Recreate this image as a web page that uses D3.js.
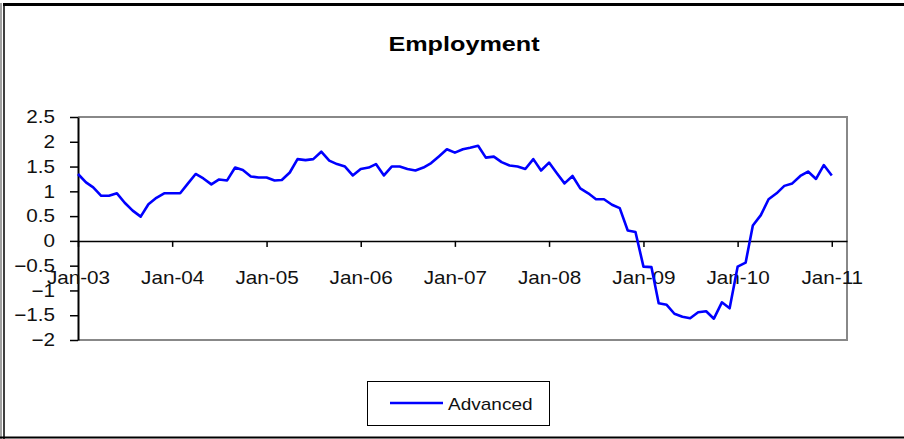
<!DOCTYPE html>
<html><head><meta charset="utf-8">
<script src="https://cdn.jsdelivr.net/npm/d3@7"></script>
<style>
html,body{margin:0;padding:0;background:#fff;}
svg{display:block;font-family:"Liberation Sans",Arial,sans-serif;}
</style></head>
<body>
<svg id="chart" width="904" height="439"></svg>
<script>
const title = "Employment";
const seriesName = "Advanced";
const startMonth = "2003-01";
const values = [
  1.35,1.18,1.08,0.91,0.91,0.96,0.77,0.61,0.49,0.74,0.87,0.96,
  0.96,0.96,1.15,1.35,1.26,1.14,1.24,1.22,1.48,1.43,1.30,1.28,
  1.28,1.22,1.23,1.38,1.65,1.63,1.65,1.80,1.62,1.55,1.50,1.32,
  1.45,1.48,1.55,1.32,1.50,1.50,1.45,1.42,1.48,1.57,1.71,1.85,
  1.78,1.85,1.88,1.92,1.68,1.70,1.59,1.52,1.50,1.45,1.65,1.42,
  1.58,1.36,1.16,1.31,1.06,0.96,0.84,0.84,0.73,0.66,0.21,0.18,
  -0.52,-0.53,-1.26,-1.29,-1.47,-1.53,-1.56,-1.44,-1.42,-1.57,-1.24,-1.36,
  -0.52,-0.44,0.31,0.52,0.84,0.96,1.11,1.16,1.31,1.40,1.25,1.53,
  1.32
];
const yTicks = [-2,-1.5,-1,-0.5,0,0.5,1,1.5,2,2.5];
const xTickYears = [2003,2004,2005,2006,2007,2008,2009,2010,2011];

const parse = d3.timeParse("%Y-%m");
const t0 = parse(startMonth);
const data = values.map((v,i)=>({date:d3.timeMonth.offset(t0,i), v}));

const svg = d3.select("#chart");
const L=78, R=847, T=117, B=340;

// outer frame
svg.append("line").attr("x1",3).attr("x2",904).attr("y1",4.5).attr("y2",4.5).attr("stroke","#000").attr("stroke-width",3);
svg.append("line").attr("x1",1).attr("x2",1).attr("y1",3).attr("y2",439).attr("stroke","#444").attr("stroke-width",1);
svg.append("line").attr("x1",4).attr("x2",4).attr("y1",3).attr("y2",439).attr("stroke","#000").attr("stroke-width",1.5);
svg.append("line").attr("x1",0).attr("x2",904).attr("y1",437.5).attr("y2",437.5).attr("stroke","#000").attr("stroke-width",2);

const x = d3.scaleTime().domain([t0, parse("2011-03")]).range([L,R]);
const y = d3.scaleLinear().domain([-2,2.5]).range([B,T]);

function stretch(sel, k){
  sel.each(function(){
    const t=d3.select(this);
    const tx=+t.attr("x")||0, ty=+t.attr("y")||0;
    t.attr("x",0).attr("y",0).attr("transform",`translate(${tx},${ty}) scale(${k},1)`);
  });
}

// plot area border (gray)
svg.append("path").attr("d",`M${L},${T}H${R}V${B}H${L}`).attr("fill","none").attr("stroke","#888").attr("stroke-width",2);

// title
svg.append("text").attr("transform","translate(464,51) scale(1.2,1)").attr("text-anchor","middle")
  .attr("font-size",21).attr("font-weight","bold").attr("fill","#000").text(title);

// y axis
const gy = svg.append("g").attr("transform",`translate(${L},0)`)
  .call(d3.axisLeft(y).tickValues(yTicks).tickFormat(d3.format("")).tickSizeInner(8).tickSizeOuter(0).tickPadding(15));
gy.select(".domain").attr("stroke","#000").attr("stroke-width",2);
gy.selectAll(".tick line").attr("stroke","#000").attr("stroke-width",1.5);
gy.selectAll("text").attr("font-size",18).attr("fill","#111").attr("font-family","Liberation Sans, Arial, sans-serif");
stretch(gy.selectAll("text"),1.15);

// x axis at zero
const gx = svg.append("g").attr("transform",`translate(0,${y(0)})`)
  .call(d3.axisBottom(x).tickValues(xTickYears.map(yr=>new Date(yr,0,1)))
    .tickFormat(d3.timeFormat("Jan-%y")).tickSizeInner(6).tickSizeOuter(0).tickPadding(24));
gx.select(".domain").attr("stroke","#000").attr("stroke-width",1.5);
gx.selectAll(".tick line").attr("stroke","#000").attr("stroke-width",1.5);
gx.selectAll("text").attr("font-size",18).attr("fill","#111").attr("font-family","Liberation Sans, Arial, sans-serif");
stretch(gx.selectAll("text"),1.15);

// line
const line = d3.line().x(d=>x(d.date)).y(d=>y(d.v));
svg.append("path").datum(data).attr("d",line).attr("fill","none").attr("stroke","#0000ff").attr("stroke-width",2.6).attr("stroke-linejoin","round");

// legend
const lg = svg.append("g");
lg.append("rect").attr("x",367.5).attr("y",381.5).attr("width",182).attr("height",44).attr("fill","#fff").attr("stroke","#000").attr("stroke-width",1);
lg.append("line").attr("x1",390).attr("x2",443).attr("y1",403).attr("y2",403).attr("stroke","#0000ff").attr("stroke-width",2.6);
lg.append("text").attr("transform","translate(448,409.5) scale(1.12,1)").attr("font-size",17).attr("fill","#111").text(seriesName);
</script>
</body></html>
